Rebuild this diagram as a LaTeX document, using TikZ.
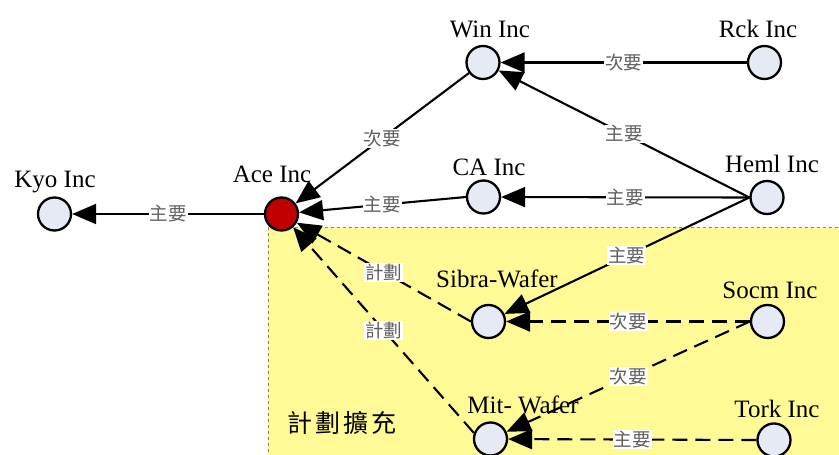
\documentclass[tikz,border=0pt]{standalone}
\usepackage{fontspec}
\setmainfont{Liberation Serif}
\newfontfamily\cjk{Noto Sans CJK TC}
\usetikzlibrary{arrows.meta}
\definecolor{nodefill}{RGB}{230,234,245}
\definecolor{acered}{RGB}{192,0,0}
\definecolor{zoneyellow}{RGB}{255,250,150}
\definecolor{lblgray}{RGB}{95,95,95}
\tikzset{
 co/.style={circle, draw=black, line width=2.3pt, fill=nodefill, minimum size=33pt, inner sep=0pt},
 cname/.style={font=\fontsize{25}{25}\selectfont, anchor=base, inner sep=0pt},
 rel/.style={line width=2.1pt, -{Triangle[length=24pt,width=20pt]}},
 plan/.style={rel, dash pattern=on 15pt off 8pt},
 tag/.style={pos=0.5, fill=white, inner sep=1pt, text=lblgray, font=\cjk\fontsize{18.5}{18.5}\selectfont},
}
\begin{document}
\begin{tikzpicture}[x=1pt,y=-1pt]
\useasboundingbox (0,0) rectangle (839,455);
\clip (0,0) rectangle (839,455);
\draw[fill=zoneyellow, draw=gray, dashed, line width=0.6pt] (268,227) rectangle (850,470);
\node[font=\cjk\fontsize{25}{25}\selectfont, inner sep=0pt] (zone) at (342,423) {計\hspace{3pt}劃\hspace{3pt}擴\hspace{3pt}充};

\node[co] (kyo) at (54.5,214) {};
\node[co, fill=acered] (ace) at (281.5,214) {};
\node[co] (win) at (483,62.5) {};
\node[co] (rck) at (764.5,62.5) {};
\node[co] (ca) at (483.5,197) {};
\node[co] (heml) at (767,197.5) {};
\node[co] (sibra) at (488.5,321.5) {};
\node[co] (socm) at (767.5,321.5) {};
\node[co] (mit) at (490.5,439) {};
\node[co] (tork) at (774,440) {};

\node[cname] (kyoL) at (55,187) {Kyo Inc};
\node[cname] (aceL) at (272,182) {Ace Inc};
\node[cname] (winL) at (490,37) {Win Inc};
\node[cname] (rckL) at (758,37) {Rck Inc};
\node[cname] (caL) at (489,175) {CA Inc};
\node[cname] (hemlL) at (772,172) {Heml Inc};
\node[cname] (sibraL) at (497,287) {Sibra-Wafer};
\node[cname] (socmL) at (770,298) {Socm Inc};
\node[cname] (mitL) at (523,413) {Mit- Wafer};
\node[cname] (torkL) at (777,417) {Tork Inc};

\draw[rel] (ace) -- node[tag]{主要} (kyo);
\draw[rel] (win) -- node[tag]{次要} (ace);
\draw[rel] (ca.west) -- node[tag]{主要} (ace);
\draw[rel] (rck.west) -- node[tag]{次要} (win);
\draw[rel] (heml.west) -- node[tag]{主要} (win);
\draw[rel] (heml.west) -- node[tag]{主要} (ca);
\draw[rel] (heml.west) -- node[tag]{主要} (sibra);
\draw[plan] (socm.west) -- node[tag]{次要} (sibra);
\draw[plan] (socm.west) -- node[tag]{次要} (mit);
\draw[plan] (tork.west) -- node[tag]{主要} (mit);
\draw[plan] (sibra.west) -- node[tag]{計劃} (ace);
\draw[plan] (mit.160) -- node[tag]{計劃} (ace);
\end{tikzpicture}
\end{document}
